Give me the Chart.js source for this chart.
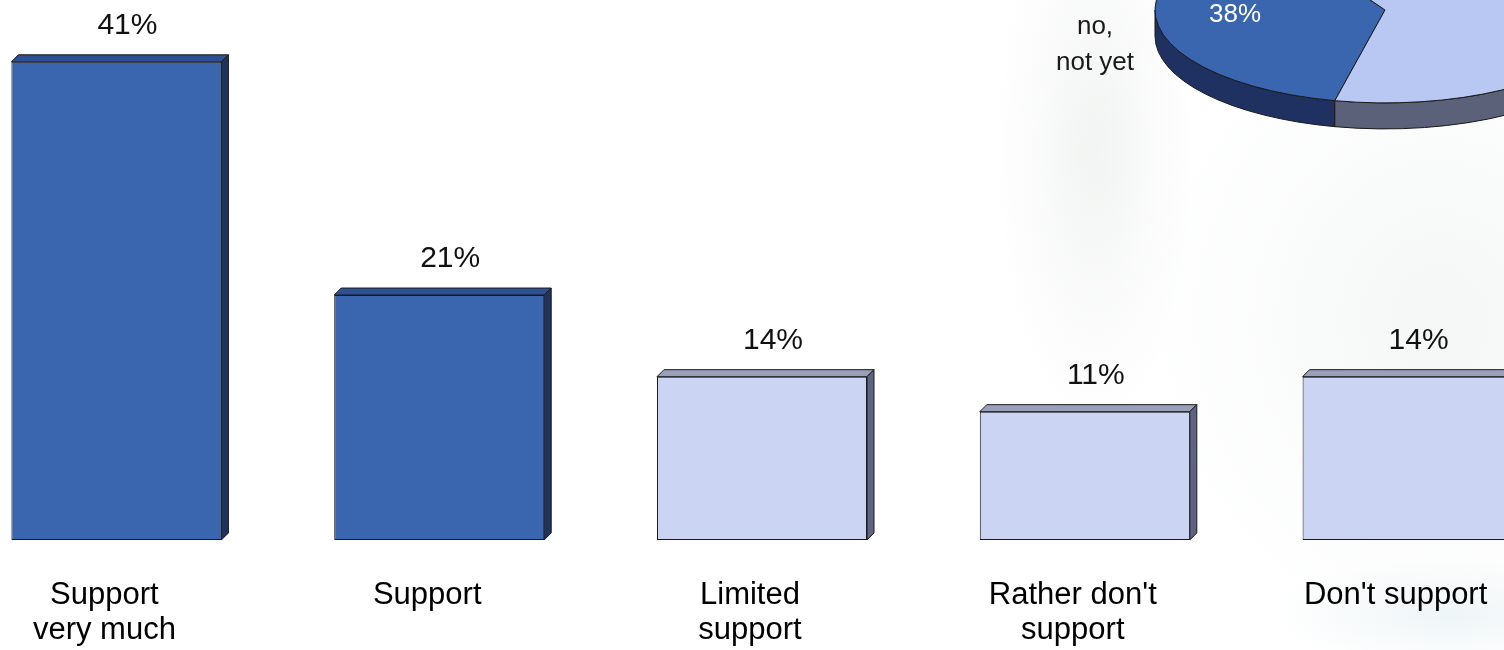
<!DOCTYPE html>
<html lang="en">
<head>
<meta charset="utf-8">
<title>Support</title>
<script src="https://cdn.jsdelivr.net/npm/chart.js@4.4.1/dist/chart.umd.min.js"></script>
<style>
  html, body {
    margin: 0;
    padding: 0;
    width: 1504px;
    height: 650px;
    overflow: hidden;
  }
  body {
    position: relative;
    background:
      radial-gradient(ellipse 100px 280px at 1095px 150px, rgba(222, 228, 224, 0.4), rgba(255, 255, 255, 0) 100%),
      radial-gradient(ellipse 300px 330px at 1440px 320px, rgba(236, 241, 239, 0.55), rgba(255, 255, 255, 0) 100%),
      radial-gradient(ellipse 180px 55px at 1450px 615px, rgba(214, 232, 236, 0.4), rgba(255, 255, 255, 0) 100%),
      #fff;
  }
  #bar-chart { position: absolute; left: -45px; top: 0; }
  #pie-chart { position: absolute; left: 1000px; top: -220px; }
</style>
</head>
<body>
<canvas id="bar-chart" width="1614" height="686"></canvas>
<canvas id="pie-chart" width="770" height="460"></canvas>
<script>
'use strict';

// Bar chart data
let categories = [['Support', 'very much'], ['Support'], ['Limited', 'support'], ["Rather don't", 'support'], ["Don't support"]];
let percents = [41, 21, 14, 11, 14];

// Pie chart data
let pieLabels = ['no, not yet', 'yes'];
let pieValues = [38, 62];

// Colours: front, top, side
let darkShade = { front: '#3a65af', top: '#2d5194', side: '#1f335f' };
let lightShade = { front: '#ccd4f3', top: '#9a9fba', side: '#5d6380' };
let pieShade = [
  { top: '#3a65af', side: '#1e3160' },
  { top: '#b9c8f3', side: '#5b6178' }
];
let edgeColor = '#1a1a1a';

// first two answers are the supportive ones
function shadeFor(i) {
  return i < 2 ? darkShade : lightShade;
}

Chart.defaults.font.family = '"Liberation Sans", Arial, sans-serif';

// DOM Reference
let barCtx = document.getElementById('bar-chart');
let pieCtx = document.getElementById('pie-chart');

// Bar extrusion + value labels
const depth = 7;

const barDepth = {
  id: 'barDepth',
  afterDatasetsDraw(chart) {
    let ctx = chart.ctx;
    let bars = chart.getDatasetMeta(0).data;
    ctx.save();
    ctx.lineWidth = 1;
    ctx.strokeStyle = edgeColor;
    ctx.lineJoin = 'round';
    bars.forEach(function(bar, i) {
      let shade = shadeFor(i);
      let left = bar.x - bar.width / 2;
      let right = bar.x + bar.width / 2;
      let top = bar.y;
      let base = bar.base;

      // top face
      ctx.fillStyle = shade.top;
      ctx.beginPath();
      ctx.moveTo(left, top);
      ctx.lineTo(left + depth, top - depth);
      ctx.lineTo(right + depth, top - depth);
      ctx.lineTo(right, top);
      ctx.closePath();
      ctx.fill();
      ctx.stroke();

      // side face
      ctx.fillStyle = shade.side;
      ctx.beginPath();
      ctx.moveTo(right, top);
      ctx.lineTo(right + depth, top - depth);
      ctx.lineTo(right + depth, base - depth);
      ctx.lineTo(right, base);
      ctx.closePath();
      ctx.fill();
      ctx.stroke();

      // value above the bar
      ctx.fillStyle = '#111';
      ctx.font = '30px "Liberation Sans", Arial, sans-serif';
      ctx.textAlign = 'center';
      ctx.textBaseline = 'middle';
      ctx.fillText(percents[i] + '%', bar.x + 11, top - 36);
    });
    ctx.restore();
  }
};

let barChart = new Chart(barCtx, {
  type: 'bar',
  data: {
    labels: categories,
    datasets: [{
      data: percents,
      backgroundColor: percents.map((v, i) => shadeFor(i).front),
      borderColor: edgeColor,
      borderWidth: 1,
      borderSkipped: false,
      barPercentage: 0.6506,
      categoryPercentage: 1
    }]
  },
  options: {
    responsive: false,
    animation: false,
    events: [],
    layout: { padding: 0 },
    plugins: {
      legend: { display: false },
      tooltip: { enabled: false }
    },
    scales: {
      x: {
        grid: { display: false, drawTicks: false },
        border: { display: false },
        ticks: {
          color: '#000',
          font: { size: 31, lineHeight: 1.13 },
          padding: 38,
          labelOffset: -12,
          maxRotation: 0,
          autoSkip: false
        }
      },
      y: {
        display: false,
        min: 0,
        max: 46.3
      }
    }
  },
  plugins: [barDepth]
});

// Pie drawn as a tilted disc
const tilt = 0.404;
const rim = 26;

// the rim only shows on the near half of the disc (0..PI)
function nearParts(start, end) {
  let parts = [];
  for (let turn = -2; turn <= 2; turn++) {
    let a = Math.max(start, turn * 2 * Math.PI);
    let b = Math.min(end, turn * 2 * Math.PI + Math.PI);
    if (b > a) {
      parts.push([a, b]);
    }
  }
  return parts;
}

const pieDisc = {
  id: 'pieDisc',
  beforeDatasetsDraw(chart) {
    let ctx = chart.ctx;
    let arcs = chart.getDatasetMeta(0).data;
    ctx.save();
    ctx.lineWidth = 1;
    ctx.strokeStyle = edgeColor;

    // rim first
    arcs.forEach(function(arc, i) {
      let rx = arc.outerRadius;
      let ry = rx * tilt;
      nearParts(arc.startAngle, arc.endAngle).forEach(function(p) {
        ctx.fillStyle = pieShade[i].side;
        ctx.beginPath();
        ctx.ellipse(arc.x, arc.y, rx, ry, 0, p[0], p[1]);
        ctx.ellipse(arc.x, arc.y + rim, rx, ry, 0, p[1], p[0], true);
        ctx.closePath();
        ctx.fill();
        ctx.stroke();
      });
    });

    // top of the disc
    arcs.forEach(function(arc, i) {
      let rx = arc.outerRadius;
      let ry = rx * tilt;
      ctx.fillStyle = pieShade[i].top;
      ctx.beginPath();
      ctx.moveTo(arc.x, arc.y);
      ctx.ellipse(arc.x, arc.y, rx, ry, 0, arc.startAngle, arc.endAngle);
      ctx.closePath();
      ctx.fill();
      ctx.stroke();
    });

    // percentage inside the dark slice, its name outside on the left
    let arc = arcs[0];
    let mid = (arc.startAngle + arc.endAngle) / 2;
    let rx = arc.outerRadius;
    let ry = rx * tilt;
    ctx.fillStyle = '#fff';
    ctx.font = '26px "Liberation Sans", Arial, sans-serif';
    ctx.textAlign = 'center';
    ctx.textBaseline = 'middle';
    ctx.fillText(pieValues[0] + '%', arc.x + Math.cos(mid) * rx * 0.66, arc.y + Math.sin(mid) * ry * 0.66 - 5);

    ctx.fillStyle = edgeColor;
    ctx.textBaseline = 'alphabetic';
    let nameLines = ['no,', 'not yet'];
    nameLines.forEach(function(line, j) {
      ctx.fillText(line, arc.x - rx - 60, arc.y + 24 + j * 36);
    });

    ctx.restore();
    return false;
  }
};

let pieChart = new Chart(pieCtx, {
  type: 'pie',
  data: {
    labels: pieLabels,
    datasets: [{
      data: pieValues,
      radius: 230,
      borderWidth: 0
    }]
  },
  options: {
    responsive: false,
    animation: false,
    events: [],
    rotation: 192.6,
    plugins: {
      legend: { display: false },
      tooltip: { enabled: false }
    }
  },
  plugins: [pieDisc]
});
</script>
</body>
</html>
